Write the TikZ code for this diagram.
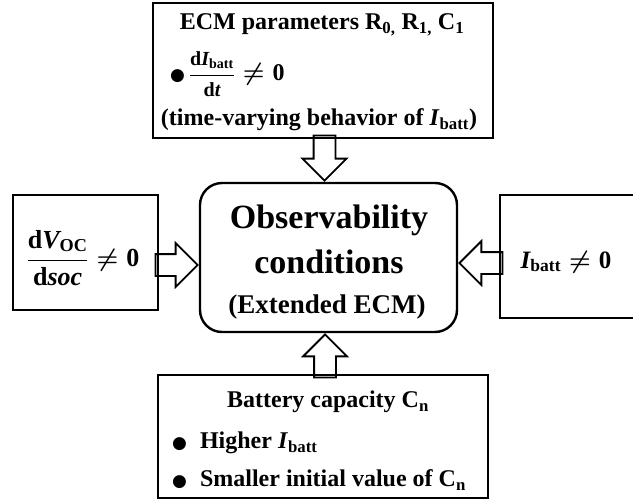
\documentclass[tikz,border=0pt]{standalone}
\usepackage{amsmath}
\usepackage[no-math]{fontspec}
\setmainfont{Liberation Serif}
\newfontfamily\dotfont{DejaVu Sans}
\usetikzlibrary{shapes.arrows}

\tikzset{
  box/.style={draw, line width=2.4pt, inner sep=0pt},
  mainbox/.style={draw, line width=2.4pt, rounded corners=22pt, inner sep=0pt},
  txt/.style={font=\fontsize{24}{29}\selectfont\bfseries\boldmath, inner sep=0pt},
  bigtxt/.style={font=\fontsize{34}{40}\selectfont\bfseries, inner sep=0pt},
  hollowarrow/.style={single arrow, draw, line width=1.8pt, inner sep=10pt,
    single arrow head extend=11pt, single arrow tip angle=90},
}
\newcommand{\blob}{{\dotfont\fontsize{17}{17}\selectfont ●}}
\newcommand{\bu}[1]{\text{\bfseries\upshape #1}}
\newcommand{\bi}[1]{\text{\bfseries\itshape #1}}

\begin{document}
\begin{tikzpicture}[x=1pt, y=-1pt]
  \clip (0,0) rectangle (633,501);

  % boxes
  \node[box, minimum width=340pt, minimum height=135pt] (ecm) at (323,70.5) {};
  \node[mainbox, minimum width=257pt, minimum height=149pt] (obs) at (328.5,257.5) {};
  \node[box, minimum width=145pt, minimum height=115pt] (voc) at (85.5,252.5) {};
  \node[box, minimum width=150pt, minimum height=123pt] (ibatt) at (575,256.5) {};
  \node[box, minimum width=330pt, minimum height=123pt] (cap) at (323,436.5) {};

  % hollow arrows into the centre
  \node[hollowarrow, minimum height=45pt, rotate=-90, anchor=tip] (a-top) at ([xshift=-4pt]obs.north) {};
  \node[hollowarrow, minimum height=42pt, anchor=tip] (a-left) at ([yshift=-7.5pt]obs.west) {};
  \node[hollowarrow, minimum height=43pt, rotate=180, anchor=tip] (a-right) at ([yshift=-5.5pt]obs.east) {};
  \node[hollowarrow, minimum height=43pt, rotate=90, anchor=tip] (a-bot) at ([xshift=-3.5pt]obs.south) {};

  % top box
  \node[txt] (ecm-title) at (322,25) {ECM parameters R\textsubscript{0,} R\textsubscript{1,} C\textsubscript{1}};
  \node[txt, anchor=west] (ecm-rate) at (170,74) {\blob\,{\fontsize{20}{24}\selectfont$\displaystyle\frac{\bu{d}\bi{I}_{\bu{batt}}}{\bu{d}\bi{t}}$}$\;\neq \bu{0}$};
  \node[txt] (ecm-note) at (319,120) {(time-varying behavior of \textit{I}\textsubscript{batt})};

  % centre
  \node[bigtxt] (obs-l1) at (329,220) {Observability};
  \node[bigtxt] (obs-l2) at (329,262) {conditions};
  \node[txt, font=\fontsize{27}{32}\selectfont\bfseries] (obs-l3) at (327,307) {(Extended ECM)};

  % sides
  \node[txt, font=\fontsize{26}{30}\selectfont\bfseries\boldmath] (voc-txt) at (83,258) {$\displaystyle\frac{\bu{d}\bi{V}_{\bu{OC}}}{\bu{d}\bi{soc}}\neq \bu{0}$};
  \node[txt, font=\fontsize{25}{30}\selectfont\bfseries\boldmath] (ibatt-txt) at (566,262) {$\bi{I}_{\bu{batt}}\neq \bu{0}$};

  % bottom box
  \node[txt] (cap-title) at (328,402) {Battery capacity C\textsubscript{n}};
  \node[txt, anchor=west] (cap-i1) at (172,443) {\blob\hspace{13pt}Higher \textit{I}\textsubscript{batt}};
  \node[txt, anchor=west] (cap-i2) at (172,480) {\blob\hspace{13pt}Smaller initial value of C\textsubscript{n}};
\end{tikzpicture}
\end{document}
